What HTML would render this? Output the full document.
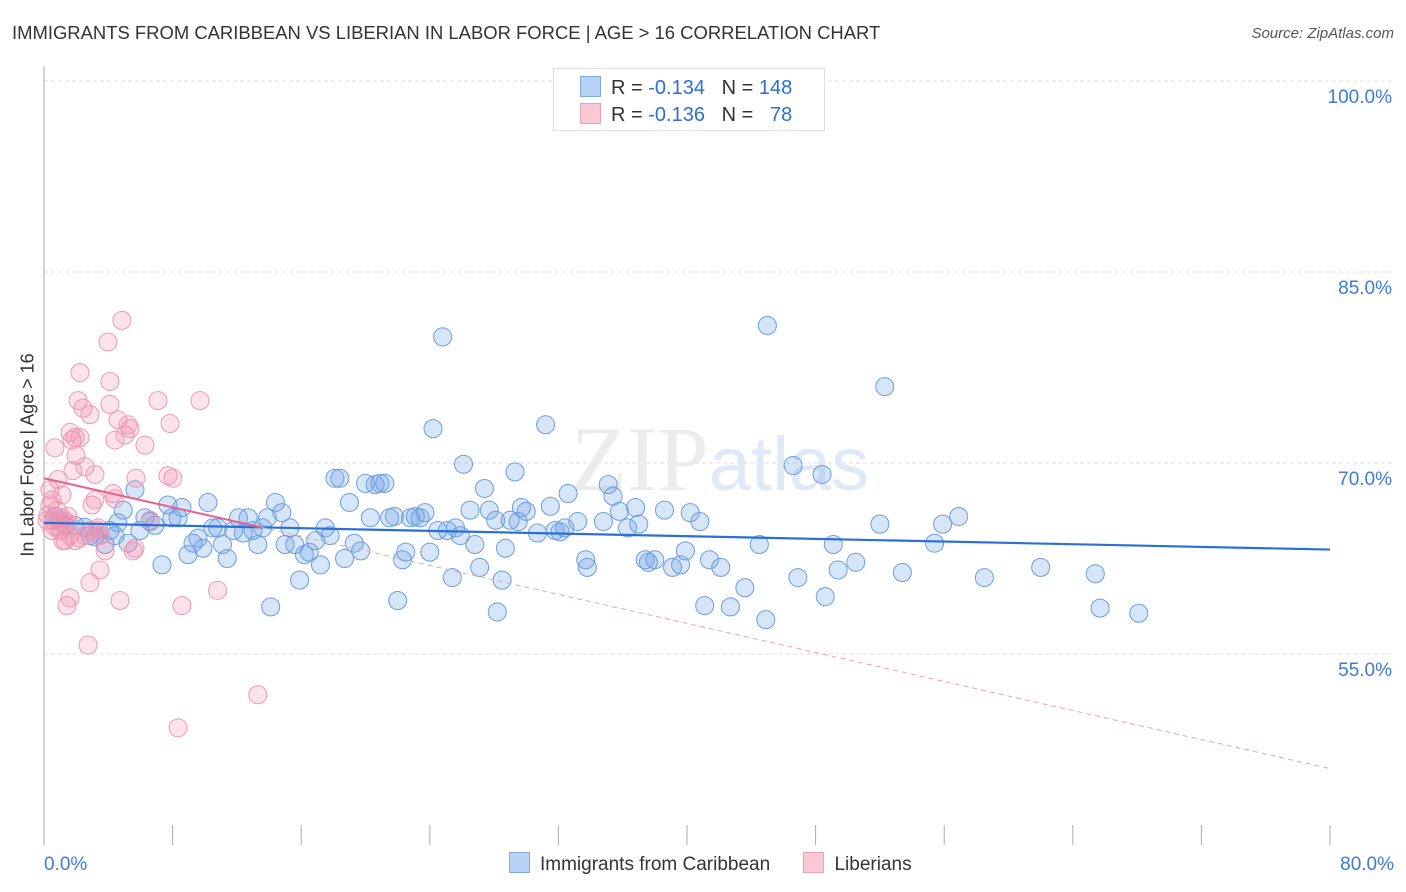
<!DOCTYPE html>
<html><head><meta charset="utf-8"><style>
body{margin:0;background:#fff;font-family:"Liberation Sans",sans-serif;}
#wrap{position:relative;width:1406px;height:892px;overflow:hidden;}
.t{position:absolute;white-space:nowrap;}
</style></head><body>
<div id="wrap">
<div class="t" style="left:12px;top:22px;font-size:18.45px;color:#333;">IMMIGRANTS FROM CARIBBEAN VS LIBERIAN IN LABOR FORCE | AGE &gt; 16 CORRELATION CHART</div>
<div class="t" style="right:12px;top:25px;font-size:15px;color:#555;font-style:italic;">Source: ZipAtlas.com</div>
<svg id="svg" width="1406" height="892" style="position:absolute;left:0;top:0"></svg>
<div class="t" style="left:553px;top:68px;width:270px;height:61px;border:1px solid #ddd;background:#fff;font-size:20px;color:#333;">
 <div style="position:absolute;left:26px;top:7px;"><span style="display:inline-block;width:19px;height:19px;background:#b8d2f5;border:1px solid #7fa9e6;vertical-align:-3px;margin-right:10px"></span>R = <span style="color:#2a6fd6">-0.134</span>&nbsp;&nbsp;&nbsp;N = <span style="color:#2a6fd6">148</span></div>
 <div style="position:absolute;left:26px;top:34px;"><span style="display:inline-block;width:19px;height:19px;background:#fcc8d6;border:1px solid #eca0b6;vertical-align:-3px;margin-right:10px"></span>R = <span style="color:#2a6fd6">-0.136</span>&nbsp;&nbsp;&nbsp;N = &nbsp;&nbsp;<span style="color:#2a6fd6">78</span></div>
</div>
<div class="t" style="left:28px;top:455px;font-size:18px;color:#333;transform:translate(-50%,-50%) rotate(-90deg);">In Labor Force | Age &gt; 16</div>
<div class="t" style="left:509px;top:852px;font-size:19px;color:#333;">
 <span style="display:inline-block;width:19px;height:19px;background:#b8d2f5;border:1px solid #7fa9e6;vertical-align:-3px;margin-right:10px"></span>Immigrants from Caribbean
 <span style="display:inline-block;width:19px;height:19px;background:#fcc8d6;border:1px solid #eca0b6;vertical-align:-3px;margin:0 10px 0 28px"></span>Liberians
</div>
</div>
<script>
const blueX=[0.68,1.0,1.31,1.93,2.55,2.86,3.17,3.48,3.8,4.1,4.42,4.6,4.93,5.23,5.66,5.97,6.28,6.6,6.9,7.34,7.71,7.96,8.34,8.58,8.96,9.27,9.58,9.89,10.2,10.5,10.8,11.1,11.4,11.8,12.1,12.4,12.7,13.0,13.3,13.6,13.9,14.1,14.4,14.8,15.0,15.3,15.6,15.9,16.2,16.5,16.9,17.2,17.5,17.8,18.1,18.4,18.7,19.0,19.3,19.7,20.0,20.3,20.6,20.9,21.2,21.5,21.8,22.0,22.3,22.5,22.8,23.1,23.4,23.7,24.0,24.2,24.5,24.8,25.1,25.4,25.6,25.9,26.1,26.5,26.8,27.1,27.4,27.7,28.1,28.2,28.5,28.7,29.0,29.3,29.5,29.7,30.0,30.7,31.2,31.5,31.8,32.1,32.4,32.6,33.2,33.7,33.8,34.8,35.1,35.4,35.8,36.3,36.8,37.0,37.4,37.6,38.0,38.6,39.1,39.6,39.9,40.2,40.8,41.1,41.4,42.1,42.7,43.6,44.5,44.9,45.0,46.6,46.9,48.4,48.6,49.1,49.4,50.5,52.0,52.3,53.4,55.4,55.9,56.9,58.5,62.0,65.4,65.7,68.1];
const blueY=[65.8,65.5,65.1,65.1,64.95,64.3,64.2,64.3,63.6,64.7,64.3,65.3,66.3,63.7,67.9,64.7,65.7,65.4,65.1,62.0,66.7,65.7,65.7,66.5,62.8,63.7,64.1,63.3,66.9,64.9,64.9,63.6,62.5,64.7,65.7,64.5,65.7,64.7,63.6,64.9,65.7,58.7,66.9,66.1,63.6,64.9,63.6,60.8,62.8,63.0,63.9,62.0,64.9,64.3,68.8,68.8,62.5,66.9,63.7,63.1,68.4,65.7,68.3,68.4,68.4,65.7,65.8,59.2,62.4,63.0,65.7,65.8,65.7,66.1,63.0,72.7,64.7,79.9,64.7,61.0,64.9,64.3,69.9,66.3,63.6,61.8,68.0,66.3,65.5,58.3,60.8,63.3,65.5,69.3,65.4,66.5,66.2,64.5,73.0,66.6,64.7,64.6,64.9,67.6,65.4,62.4,61.8,65.4,68.3,67.4,66.2,64.9,66.5,65.2,62.4,62.2,62.4,66.3,61.8,62.0,63.1,66.1,65.4,58.8,62.4,61.8,58.7,60.2,63.6,57.7,80.8,69.8,61.0,69.1,59.5,63.6,61.6,62.2,65.2,76.0,61.4,63.7,65.2,65.8,61.0,61.8,61.3,58.6,58.2];
const pinkX=[0.37,0.5,0.56,0.68,0.81,0.87,1.0,1.12,1.18,1.31,1.43,1.49,1.62,1.62,1.74,1.8,1.93,1.99,2.12,2.24,2.24,2.43,2.55,2.55,2.74,2.86,2.86,2.99,3.17,3.17,3.36,3.48,3.8,3.98,4.1,4.1,4.29,4.42,4.42,4.6,4.73,4.85,5.04,5.23,5.35,5.54,5.66,5.72,6.28,6.6,7.09,7.71,7.84,8.02,8.34,8.58,9.7,10.8,13.3,1.0,0.19,0.25,0.37,0.5,0.68,0.87,1.12,1.31,1.49,1.62,1.93,2.24,2.86,3.36,3.48];
const pinkY=[67.9,67.1,65.5,71.2,66.3,68.7,64.7,67.5,63.9,63.9,58.8,65.8,72.4,59.4,71.8,69.4,72.0,70.6,74.9,72.0,77.1,74.3,69.7,64.3,55.7,60.6,73.8,66.7,67.1,69.1,64.7,61.6,63.1,79.5,76.4,74.6,67.6,67.2,71.8,73.4,59.2,81.2,72.2,73.0,72.7,63.1,63.3,68.8,71.4,65.5,74.9,69.0,73.1,68.8,49.2,58.8,74.9,60.0,51.8,64.7,65.5,65.9,66.7,64.7,65.0,65.5,65.7,65.4,65.3,64.3,63.9,64.1,64.7,64.9,64.3];
const yTicks=[100,85,70,55];
const blueTrend=[65.3,63.2];
const pinkTrend=[68.8,46.0];
const pinkSolidEnd=13.5;
const X=v=>44+v*1286/80, Y=v=>81+(100-v)*12.733;
const svg=document.getElementById('svg'),NS='http://www.w3.org/2000/svg';
function mk(t,a){const e=document.createElementNS(NS,t);for(const k in a)e.setAttribute(k,a[k]);svg.appendChild(e);return e;}
yTicks.forEach(v=>{const l=mk('line',{x1:44,x2:1394,y1:Y(v),y2:Y(v),stroke:'#ddd','stroke-dasharray':'4,3'});


const t=mk('text',{x:1392,y:Y(v)+22,'text-anchor':'end','font-size':19,fill:'#3d7bd9','font-family':'Liberation Sans'});t.textContent=v.toFixed(1)+'%';

});
let ax=mk('line',{x1:44,x2:44,y1:66,y2:845,stroke:'#aaa'});


for(let i=1;i<=10;i++){const l=mk('line',{x1:X(i*8),x2:X(i*8),y1:825,y2:845,stroke:'#aaa'});

}
[['0.0%',44,'start'],['80.0%',1394,'end']].forEach(d=>{const t=mk('text',{x:d[1],y:870,'text-anchor':d[2],'font-size':19,fill:'#3d7bd9','font-family':'Liberation Sans'});t.textContent=d[0];

});
const wm=mk('text',{x:720,y:490,'text-anchor':'middle','font-size':92,fill:'#ececec','font-family':'Liberation Serif'});wm.innerHTML='ZIP<tspan fill="#dfe9f7" font-family="Liberation Sans" font-size="76">atlas</tspan>';


blueX.forEach((x,i)=>{const c=mk('circle',{cx:X(x),cy:Y(blueY[i]),r:9,fill:'rgba(110,160,230,0.28)',stroke:'#6b9de2','stroke-width':1});

});
pinkX.forEach((x,i)=>{const c=mk('circle',{cx:X(x),cy:Y(pinkY[i]),r:9,fill:'rgba(245,140,170,0.25)',stroke:'#ec9ab4','stroke-width':1});

});
const pv=x=>pinkTrend[0]+(pinkTrend[1]-pinkTrend[0])*x/80;
let l1=mk('line',{x1:X(0),y1:Y(blueTrend[0]),x2:X(80),y2:Y(blueTrend[1]),stroke:'#2a6fd6','stroke-width':2.2});


let l2=mk('line',{x1:X(0),y1:Y(pv(0)),x2:X(pinkSolidEnd),y2:Y(pv(pinkSolidEnd)),stroke:'#e8608a','stroke-width':2});


let l3=mk('line',{x1:X(pinkSolidEnd),y1:Y(pv(pinkSolidEnd)),x2:X(80),y2:Y(pv(80)),stroke:'#eaa0b8','stroke-width':1,'stroke-dasharray':'5,4'});


</script>
</body></html>
